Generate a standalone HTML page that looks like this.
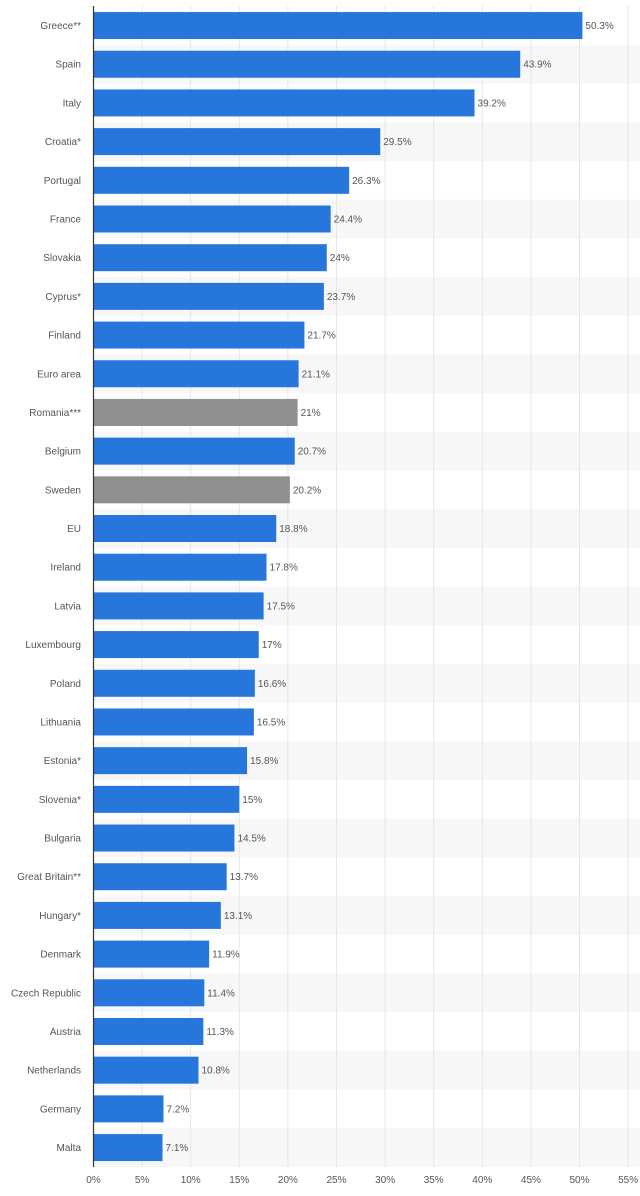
<!DOCTYPE html>
<html><head><meta charset="utf-8"><style>
body{margin:0;background:#fff;width:640px;height:1191px;overflow:hidden;font-family:"Liberation Sans",sans-serif}
svg text{font-family:"Liberation Sans",sans-serif;font-size:10px;fill:#555}
</style></head><body>
<svg id="chart" width="640" height="1191" xmlns="http://www.w3.org/2000/svg"></svg>
<script>
const categories=["Greece**","Spain","Italy","Croatia*","Portugal","France","Slovakia","Cyprus*","Finland","Euro area","Romania***","Belgium","Sweden","EU","Ireland","Latvia","Luxembourg","Poland","Lithuania","Estonia*","Slovenia*","Bulgaria","Great Britain**","Hungary*","Denmark","Czech Republic","Austria","Netherlands","Germany","Malta"];
const values=[50.3,43.9,39.2,29.5,26.3,24.4,24,23.7,21.7,21.1,21,20.7,20.2,18.8,17.8,17.5,17,16.6,16.5,15.8,15,14.5,13.7,13.1,11.9,11.4,11.3,10.8,7.2,7.1];
const valueLabels=["50.3%","43.9%","39.2%","29.5%","26.3%","24.4%","24%","23.7%","21.7%","21.1%","21%","20.7%","20.2%","18.8%","17.8%","17.5%","17%","16.6%","16.5%","15.8%","15%","14.5%","13.7%","13.1%","11.9%","11.4%","11.3%","10.8%","7.2%","7.1%"];
const highlighted=["Romania***","Sweden"];
const ticks=[0,5,10,15,20,25,30,35,40,45,50,55];
const tickLabels=["0%","5%","10%","15%","20%","25%","30%","35%","40%","45%","50%","55%"];
const NS="http://www.w3.org/2000/svg";
const svg=document.getElementById('chart');
const x0=93.5,pxPer=9.72,top0=6.2,pitch=38.69,barH=27,plotBottom=1167;
const xs=v=>x0+v*pxPer;
const yc=i=>top0+pitch*i+pitch/2;
function mk(t,a){const e=document.createElementNS(NS,t);for(const k in a)e.setAttribute(k,a[k]);svg.appendChild(e);return e;}
categories.forEach((c,i)=>{if(i%2===1){const b=mk('rect',{x:x0,y:top0+pitch*i,width:640-x0,height:pitch,fill:'#f7f7f7'});

}});
ticks.forEach((t,i)=>{const g=mk('line',{x1:xs(t),x2:xs(t),y1:6,y2:plotBottom,stroke:'#e6e6e6','stroke-width':1});


const l=mk('text',{x:xs(t),y:1183,'text-anchor':'middle'});l.textContent=tickLabels[i];

});
categories.forEach((c,i)=>{const y=yc(i);
const r=mk('rect',{x:x0,y:y-barH/2,width:xs(values[i])-x0,height:barH,fill:highlighted.includes(c)?'#8f8f8f':'#2776dc'});


const l=mk('text',{x:81,y:y+3.5,'text-anchor':'end'});l.textContent=c;


const v=mk('text',{x:xs(values[i])+3,y:y+3.5});v.textContent=valueLabels[i];

});
const ax=mk('line',{x1:x0,x2:x0,y1:6,y2:plotBottom,stroke:'#333','stroke-width':1.2});


</script>
</body></html>
